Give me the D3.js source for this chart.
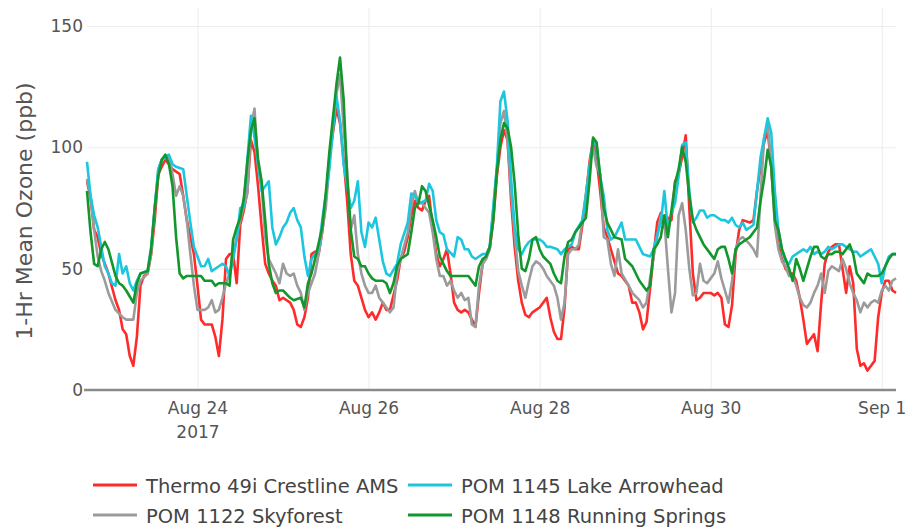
<!DOCTYPE html>
<html>
<head>
<meta charset="utf-8">
<script src="https://cdn.jsdelivr.net/npm/d3@7"></script>
<style>
  html, body { margin: 0; padding: 0; background: #fff; }
  svg { display: block; }
  text { font-family: "DejaVu Sans", Verdana, sans-serif; }
</style>
</head>
<body>
<svg id="chart" width="909" height="527"></svg>
<script>
// ---- data: [hours since 2017-08-22 00:00, 1-hr mean ozone ppb] ----
const thermoCrestline = [[17,86],[18,79],[19,66],[20,63],[21,56],[23,48],[25,37],[26,33],[27,25],[28,23],[29,14],[30,10],[31,22],[32,43],[33,47],[34,48],[35,56],[36,70],[37,89],[38,92],[39,95],[41,91],[42,90],[43,89],[44,80],[45,70],[47,56],[48,43],[49,29],[50,27],[52,27],[53,22],[54,14],[55,29],[56,54],[57,56],
[58,56],[59,44],[60,68],[61,74],[62,82],[63,103],[64,98],[65,84],[66,67],[67,52],[68,48],[69,45],[70,43],[71,37],[72,38],[74,36],[75,33],[76,27],[77,26],[78,30],[79,38],[80,56],[81,57],[82,56],[83,65],[84,78],[85,95],[86,106],[87,116],[88,110],[89,95],[90,78],[91,56],[92,45],[93,43],[94,38],[95,33],[96,30],
[97,32],[98,29],[99,32],[100,36],[101,33],[102,33],[104,45],[105,54],[106,57],[107,63],[108,72],[109,78],[110,75],[111,74],[112,78],[113,80],[114,67],[115,56],[116,51],[117,54],[118,58],[119,48],[120,36],[121,33],[122,32],[123,33],[124,32],[125,29],[126,26],[127,40],[128,52],[129,55],[130,58],[131,70],[132,88],[133,100],[134,107],[135,103],[136,78],
[137,59],[138,45],[139,36],[140,31],[141,30],[142,32],[143,33],[144,34],[146,38],[147,30],[148,24],[149,21],[150,21],[151,34],[152,58],[153,59],[154,58],[155,58],[156,68],[157,80],[158,94],[159,103],[160,95],[161,82],[162,67],[163,63],[164,58],[166,48],[167,47],[169,43],[170,36],[171,36],[172,32],[173,25],[174,28],[175,42],
[176,56],[177,69],[178,73],[179,67],[180,71],[181,70],[182,86],[183,89],[184,96],[185,105],[186,75],[187,48],[188,37],[189,38],[190,40],[192,40],[193,39],[194,40],[195,38],[196,27],[197,26],[198,35],[199,56],[200,66],[201,70],[203,69],[204,70],[205,82],[206,92],[207,102],[208,107],[209,92],[210,72],[211,60],[212,54],[213,50],[214,48],
[215,48],[216,45],[217,38],[218,29],[219,19],[220,21],[221,23],[222,16],[223,36],[224,52],[225,57],[226,59],[227,60],[228,60],[229,50],[230,40],[231,51],[232,44],[233,17],[234,10],[235,11],[236,8],[237,10],[238,12],[239,30],[240,40],[241,45],[242,45],[243,41],[244,40]];

const pomSkyforest = [[17,87],[18,80],[19,66],[20,55],[21,49],[22,45],[23,40],[25,33],[27,30],[28,29],[30,29],[31,40],[32,45],[34,48],[35,56],[36,75],[37,91],[38,95],[40,96],[41,89],[42,80],[43,84],[44,80],[45,70],[46,56],[47,43],[48,33],[50,33],[51,34],[52,37],[53,32],[54,33],
[55,38],[56,44],[57,48],[59,63],[60,70],[62,81],[63,108],[64,116],[65,92],[66,84],[67,63],[68,54],[70,48],[71,44],[72,52],[73,48],[74,47],[75,48],[76,43],[77,40],[78,33],[79,40],[81,48],[82,56],[84,75],[85,93],[86,110],[87,122],[88,130],[89,108],[90,90],[91,66],[92,72],[93,56],[94,48],[95,43],[96,40],
[97,40],[98,43],[99,38],[100,36],[101,34],[102,32],[103,34],[104,48],[105,54],[107,65],[108,76],[109,82],[110,77],[111,77],[112,75],[113,73],[114,65],[115,54],[116,47],[117,47],[118,43],[119,45],[120,41],[121,38],[122,40],[123,37],[124,38],[125,27],[126,26],[127,43],[128,52],[129,54],[130,58],[132,91],[133,110],[134,115],
[135,103],[136,82],[137,64],[138,49],[139,43],[140,38],[141,45],[142,51],[143,53],[144,52],[145,50],[146,47],[148,43],[149,38],[150,29],[151,36],[152,56],[153,58],[154,58],[155,60],[156,70],[157,81],[158,92],[159,100],[160,92],[161,89],[162,63],[163,62],[164,52],[165,47],[166,58],[167,48],[169,43],[170,40],[172,37],[173,34],
[174,36],[175,46],[176,55],[177,63],[178,72],[179,70],[180,50],[181,32],[182,40],[183,72],[184,77],[185,66],[186,50],[187,39],[188,40],[189,52],[190,45],[191,44],[192,46],[193,48],[194,53],[195,46],[196,41],[197,36],[198,45],[199,58],[200,62],[201,63],[203,60],[204,58],[205,55],[206,80],[207,104],[208,110],[209,92],[210,68],[211,58],[212,53],[213,51],[214,47],
[215,47],[216,43],[217,38],[218,35],[219,34],[220,36],[221,40],[222,43],[223,48],[224,40],[225,49],[226,51],[227,50],[228,49],[229,54],[230,50],[231,44],[232,40],[233,37],[234,32],[235,36],[236,34],[237,36],[238,37],[239,36],[240,41],[241,43],[242,41],[243,45],[244,46]];

const pomLakeArrowhead = [[17,94],[18,80],[19,72],[20,67],[21,59],[22,51],[23,48],[24,44],[25,43],[26,56],[27,48],[28,51],[29,44],[30,41],[31,45],[32,48],[34,49],[35,59],[36,75],[37,91],[38,95],[40,97],[41,93],[42,92],[44,91],[45,80],[46,69],[47,59],[48,55],[49,51],[50,51],[51,54],[52,49],[54,51],[55,52],[56,51],[57,47],
[58,54],[59,62],[60,75],[61,76],[62,95],[63,113],[64,104],[65,93],[66,82],[67,84],[68,86],[69,67],[70,60],[71,63],[72,67],[73,69],[74,73],[75,75],[76,70],[77,67],[78,55],[79,47],[80,54],[82,58],[83,70],[85,91],[86,107],[87,121],[88,111],[89,93],[91,75],[92,78],[93,86],[94,65],[95,59],[96,69],
[97,67],[98,71],[99,62],[100,53],[101,48],[102,47],[104,52],[105,60],[107,69],[108,81],[109,80],[110,77],[112,78],[113,85],[114,82],[115,70],[116,65],[117,64],[118,58],[120,55],[121,63],[122,62],[123,58],[124,58],[125,55],[126,54],[127,55],[128,56],[129,56],[130,59],[132,92],[133,119],[134,123],
[135,111],[136,87],[137,67],[138,58],[139,56],[140,59],[141,61],[142,62],[144,62],[145,61],[146,59],[147,59],[149,58],[150,56],[151,58],[153,60],[154,65],[156,70],[157,80],[158,92],[159,103],[160,100],[161,88],[162,80],[163,66],[164,62],[165,63],[166,66],[167,69],[168,62],[169,62],[171,62],[172,59],[173,56],[175,55],
[176,58],[177,64],[178,69],[179,82],[180,66],[181,73],[182,77],[183,88],[184,101],[185,102],[186,82],[187,69],[188,71],[189,74],[190,74],[191,71],[192,72],[193,72],[194,71],[195,70],[196,70],[197,69],[198,71],[199,68],[200,67],[201,69],[202,66],[204,68],[205,82],[206,96],[207,104],[208,112],[209,106],[210,82],[211,66],[212,58],[213,53],[214,52],
[215,55],[216,56],[217,57],[218,58],[219,57],[220,59],[221,56],[222,57],[223,56],[224,57],[225,59],[226,58],[227,59],[228,60],[229,60],[230,59],[231,58],[232,57],[233,57],[234,55],[235,56],[236,57],[237,58],[238,55],[239,52],[240,44],[241,51],[242,55],[243,56],[244,56]];

const pomRunningSprings = [[17,82],[18,65],[19,52],[20,51],[21,58],[22,61],[23,58],[25,47],[26,44],[27,43],[28,41],[30,36],[31,44],[32,48],[34,49],[35,58],[36,75],[37,88],[38,95],[39,97],[40,93],[41,84],[42,63],[43,48],[44,46],[45,47],[47,47],[49,47],[50,45],[52,45],[53,43],[54,44],[56,44],[57,43],
[58,62],[59,67],[60,71],[61,79],[62,94],[63,107],[64,112],[65,95],[66,86],[67,70],[68,52],[69,44],[70,40],[71,41],[72,41],[74,38],[75,37],[77,38],[78,34],[79,44],[80,48],[81,54],[83,67],[84,81],[85,98],[86,112],[87,126],[88,137],[89,120],[90,88],[91,66],[92,55],[93,54],[94,51],[95,51],[96,48],
[97,46],[98,45],[99,45],[100,45],[101,44],[102,40],[103,44],[104,51],[105,54],[107,56],[108,65],[109,75],[110,77],[111,84],[112,82],[113,76],[114,70],[115,63],[116,55],[117,52],[118,49],[119,47],[120,47],[121,47],[122,47],[123,47],[124,47],[125,45],[126,43],[127,51],[128,54],[129,55],[130,59],[131,70],[132,90],[133,103],[134,110],
[135,108],[136,100],[137,85],[138,64],[139,50],[140,49],[141,54],[142,62],[143,63],[144,58],[145,55],[147,52],[148,48],[149,45],[150,44],[151,55],[152,61],[153,62],[154,65],[156,69],[157,71],[158,86],[159,104],[160,102],[161,88],[162,75],[163,69],[164,66],[165,63],[167,62],[168,54],[170,51],[171,48],[172,45],[174,41],[175,43],
[176,58],[177,60],[178,63],[179,72],[180,63],[181,74],[182,85],[183,91],[184,100],[185,94],[186,80],[187,70],[188,66],[189,63],[190,60],[192,56],[193,54],[194,58],[195,59],[196,59],[197,54],[198,48],[199,58],[200,60],[202,62],[203,63],[204,65],[205,67],[206,78],[207,87],[208,99],[209,92],[210,70],[211,66],[212,58],[213,54],[214,50],
[215,45],[216,54],[217,50],[218,45],[219,50],[220,55],[221,59],[222,59],[223,55],[224,54],[225,56],[226,56],[227,57],[228,57],[229,56],[230,58],[231,60],[232,56],[233,48],[234,46],[235,44],[236,48],[237,47],[238,47],[239,47],[240,48],[241,51],[242,54],[243,56],[244,56]];

const seriesNames = ["Thermo 49i Crestline AMS", "POM 1122 Skyforest", "POM 1145 Lake Arrowhead", "POM 1148 Running Springs"];
const seriesColors = ["#ff2b2b", "#9b9b9b", "#1cc6de", "#13962b"];
const xTickDays = ["2017-08-24", "2017-08-26", "2017-08-28", "2017-08-30", "2017-09-01"];
const yTicks = [0, 50, 100, 150];
const yTitle = "1-Hr Mean Ozone (ppb)";

// ---- chart ----
const start = new Date(2017, 7, 22, 0);
const toDate = h => d3.timeHour.offset(start, h);
const parseDay = d3.timeParse("%Y-%m-%d");

const svg = d3.select("#chart");
const L = 87, R = 896, T = 26, B = 390;

const x = d3.scaleTime().domain([toDate(17), toDate(244)]).range([L, R]);
const y = d3.scaleLinear().domain([0, 150]).range([B, T]);

// vertical grid + x labels
const xTicks = xTickDays.map(parseDay);
const xAxis = svg.append("g").attr("transform", `translate(0,${B})`)
  .call(d3.axisBottom(x).tickValues(xTicks).tickSize(-(B - 8)).tickPadding(12)
    .tickFormat(d3.timeFormat("%b %-d")));
xAxis.select(".domain").remove();
xAxis.selectAll(".tick line").attr("stroke", "#ececec").attr("stroke-width", 1);
xAxis.selectAll(".tick text").attr("fill", "#555").attr("font-size", 17)
  .attr("font-family", "DejaVu Sans, Verdana, sans-serif");
xAxis.select(".tick text").each(function(d) {
  d3.select(this).append("tspan").attr("x", 0).attr("dy", "1.42em").text(d3.timeFormat("%Y")(d));
});

// horizontal grid + y labels
const yAxis = svg.append("g").attr("transform", `translate(${L},0)`)
  .call(d3.axisLeft(y).tickValues(yTicks).tickSize(-(R - L)).tickPadding(4));
yAxis.select(".domain").remove();
yAxis.selectAll(".tick line").attr("stroke", "#ececec").attr("stroke-width", 1);
yAxis.selectAll(".tick text").attr("fill", "#555").attr("font-size", 17)
  .attr("font-family", "DejaVu Sans, Verdana, sans-serif");

// zero line
svg.append("line").attr("x1", L - 3).attr("x2", R).attr("y1", y(0)).attr("y2", y(0))
  .attr("stroke", "#8a8a8a").attr("stroke-width", 2.5);

// y title
svg.append("text").attr("transform", `translate(32,${(T + B) / 2 + 3}) rotate(-90)`)
  .attr("text-anchor", "middle").attr("fill", "#555").attr("font-size", 22)
  .text(yTitle);

// lines
const allSeries = [thermoCrestline, pomSkyforest, pomLakeArrowhead, pomRunningSprings];
const line = d3.line().x(d => x(toDate(d[0]))).y(d => y(d[1]));
svg.append("g").selectAll("path").data(allSeries).join("path")
  .attr("d", line).attr("fill", "none")
  .attr("stroke", (d, i) => seriesColors[i]).attr("stroke-width", 2.6)
  .attr("stroke-linejoin", "round");

// legend (2 columns x 2 rows)
const legendPos = [[93, 485], [93, 515], [408, 485], [408, 515]];
const lg = svg.append("g").selectAll("g").data(seriesNames).join("g")
  .attr("transform", (d, i) => `translate(${legendPos[i][0]},${legendPos[i][1]})`);
lg.append("line").attr("x1", 0).attr("x2", 44).attr("y1", 0).attr("y2", 0)
  .attr("stroke", (d, i) => seriesColors[i]).attr("stroke-width", 3);
lg.append("text").attr("x", 53).attr("y", 8).attr("fill", "#444").attr("font-size", 19.5)
  .text(d => d);
</script>
</body>
</html>
